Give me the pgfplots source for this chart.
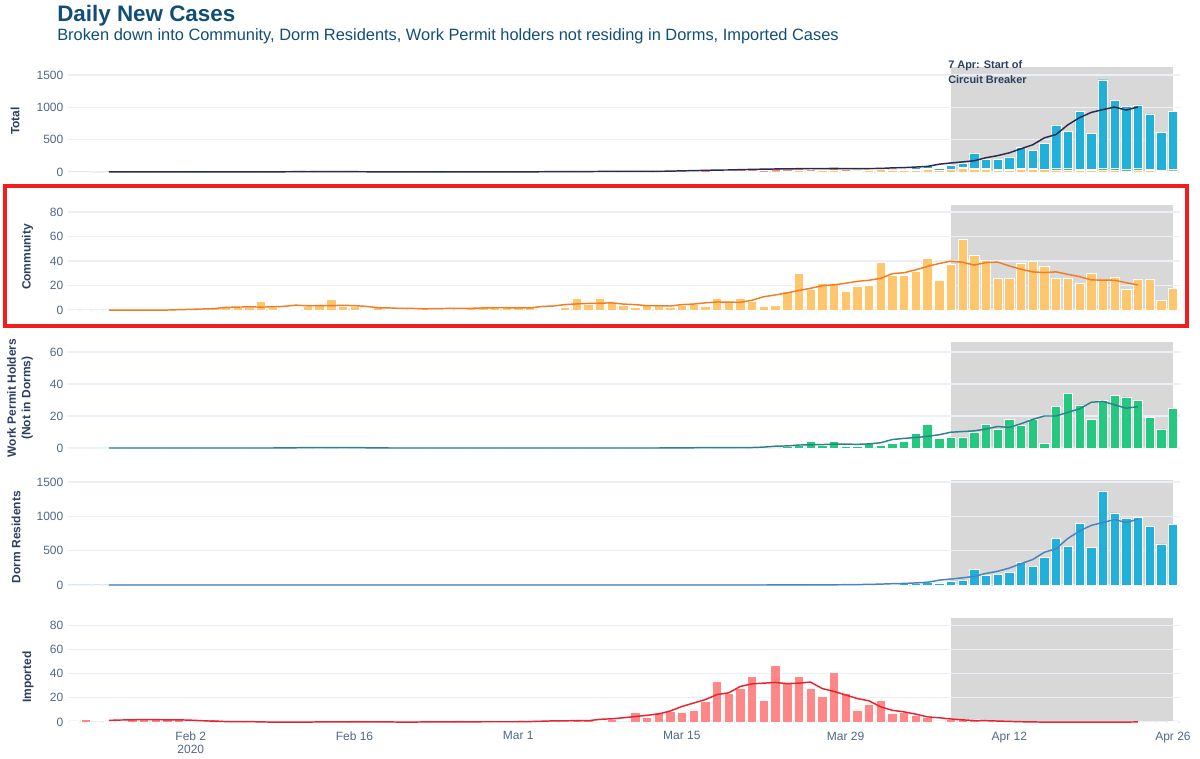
\documentclass[border=0pt]{standalone}
\usepackage{pgfplots}
\pgfplotsset{compat=1.18}
\usepackage{pgfplotstable}
\usepackage{fontspec}
\setmainfont{Liberation Sans}

\definecolor{titlec}{RGB}{16,78,118}
\definecolor{labc}{RGB}{42,63,95}
\definecolor{tickc}{RGB}{80,103,132}
\definecolor{gridc}{RGB}{235,240,248}
\definecolor{shade}{RGB}{216,216,216}
\definecolor{commbar}{RGB}{255,198,110}
\definecolor{commline}{RGB}{240,125,35}
\definecolor{impbar}{RGB}{255,135,135}
\definecolor{impline}{RGB}{232,35,45}
\definecolor{wpbar}{RGB}{36,200,126}
\definecolor{wpline}{RGB}{45,128,140}
\definecolor{dormbar}{RGB}{32,176,218}
\definecolor{dormline}{RGB}{72,130,192}
\definecolor{totline}{RGB}{40,42,78}
\definecolor{boxred}{RGB}{240,30,30}

% day 0 = 23 Jan 2020; C community, I imported, W work permit, D dorm
\pgfplotstableread{
d C I W D
0 0 1 0 0
1 0 2 0 0
2 0 0 0 0
3 0 1 0 0
4 0 1 0 0
5 0 2 0 0
6 0 3 0 0
7 0 3 0 0
8 0 3 0 0
9 0 2 0 0
10 0 0 0 0
11 0 0 0 0
12 2 2 0 0
13 2 1 0 0
14 2 0 0 0
15 2 0 0 0
16 7 0 0 0
17 2 0 0 0
18 1 0 0 0
19 1 0 0 0
20 3 0 0 0
21 5 0 1 0
22 9 0 0 0
23 3 0 1 0
24 3 1 0 0
25 1 0 0 0
26 3 0 0 0
27 1 0 0 0
28 1 0 0 0
29 1 0 0 0
30 2 0 0 0
31 0 0 0 0
32 1 0 0 0
33 1 1 0 0
34 2 0 0 0
35 2 0 0 0
36 2 0 0 0
37 2 0 0 0
38 2 1 0 0
39 2 0 0 0
40 1 1 0 0
41 1 0 0 0
42 2 1 0 0
43 10 2 0 0
44 5 2 0 0
45 10 1 0 0
46 6 2 0 0
47 4 0 0 0
48 2 8 0 0
49 4 4 0 0
50 3 8 0 0
51 2 9 0 0
52 4 8 0 0
53 5 10 0 0
54 3 17 1 0
55 10 34 0 0
56 7 24 0 0
57 10 28 1 0
58 7 38 0 0
59 3 18 0 0
60 4 47 0 0
61 15 32 1 0
62 30 38 2 1
63 17 28 4 1
64 22 21 2 2
65 21 41 4 2
66 15 24 1 1
67 19 10 1 4
68 20 15 3 8
69 39 18 2 14
70 28 7 3 10
71 28 8 4 24
72 32 6 9 28
73 42 4 15 45
74 24 1 6 30
75 37 2 7 60
76 58 2 7 75
77 45 2 10 230
78 41 1 15 140
79 26 1 12 152
80 26 0 18 188
81 38 0 14 334
82 40 0 18 276
83 36 0 3 407
84 26 0 26 676
85 26 0 34 563
86 22 0 27 893
87 30 0 18 548
88 24 0 30 1372
89 27 0 33 1051
90 17 0 32 967
91 25 0 30 982
92 25 0 19 853
93 8 0 12 598
94 18 1 25 888
}\daily

% 7-day centred averages, T = total
\pgfplotstableread{
d C I W D T
3 0 1.43 0 0 1.43
4 0 1.71 0 0 1.71
5 0 1.86 0 0 1.86
6 0 2.14 0 0 2.14
7 0 2.00 0 0 2.00
8 0 1.86 0 0 1.86
9 0.29 1.86 0 0 2.15
10 0.57 1.57 0 0 2.14
11 0.86 1.14 0 0 2.00
12 1.14 0.71 0 0 1.85
13 2.14 0.43 0 0 2.57
14 2.43 0.43 0 0 2.86
15 2.57 0.43 0 0 3.00
16 2.43 0.14 0 0 2.57
17 2.57 0 0 0 2.57
18 3.00 0 0.14 0 3.14
19 4.00 0 0.14 0 4.14
20 3.43 0 0.29 0 3.72
21 3.57 0.14 0.29 0 4.00
22 3.57 0.14 0.29 0 4.00
23 3.86 0.14 0.29 0 4.29
24 3.57 0.14 0.29 0 4.00
25 3.00 0.14 0.14 0 3.28
26 1.86 0.14 0.14 0 2.14
27 1.71 0.14 0 0 1.85
28 1.29 0 0 0 1.29
29 1.29 0 0 0 1.29
30 1.00 0.14 0 0 1.14
31 1.14 0.14 0 0 1.28
32 1.29 0.14 0 0 1.43
33 1.43 0.14 0 0 1.57
34 1.43 0.14 0 0 1.57
35 1.71 0.29 0 0 2.00
36 1.86 0.29 0 0 2.15
37 1.86 0.29 0 0 2.15
38 1.71 0.29 0 0 2.00
39 1.71 0.43 0 0 2.14
40 2.86 0.71 0 0 3.57
41 3.29 1.00 0 0 4.29
42 4.43 1.00 0 0 5.43
43 5.00 1.29 0 0 6.29
44 5.43 1.14 0 0 6.57
45 5.57 2.29 0 0 7.86
46 5.86 2.71 0 0 8.57
47 4.86 3.57 0 0 8.43
48 4.43 4.57 0 0 9.00
49 3.57 5.57 0 0 9.14
50 3.43 6.71 0 0 10.14
51 3.29 9.14 0.14 0 12.57
52 4.43 12.86 0.14 0 17.43
53 4.86 15.71 0.14 0 20.71
54 5.86 18.57 0.29 0 24.72
55 6.57 22.71 0.29 0 29.57
56 6.43 24.14 0.29 0 30.86
57 6.29 29.43 0.29 0 36.01
58 8.00 31.57 0.29 0 39.86
59 10.86 32.14 0.57 0.14 43.71
60 12.29 32.71 1.14 0.29 46.43
61 14.00 31.71 1.29 0.57 47.57
62 16.00 32.14 1.86 0.86 50.86
63 17.71 33.00 2.00 1.00 53.71
64 19.86 27.71 2.14 1.57 51.28
65 20.57 25.29 2.43 2.71 51.00
66 21.86 22.43 2.43 4.57 51.29
67 23.43 19.43 2.29 5.86 51.01
68 24.29 17.57 2.57 9.00 53.43
69 25.86 12.57 3.29 12.71 54.43
70 29.71 9.71 5.29 19.00 63.71
71 30.43 8.43 6.00 22.71 67.57
72 32.86 6.57 6.57 30.14 76.14
73 35.57 4.29 7.29 38.86 86.01
74 38.00 3.57 8.29 70.29 120.15
75 39.86 2.57 9.86 86.86 139.15
76 39.00 1.86 10.29 104.57 155.72
77 36.71 1.29 10.71 125.00 173.71
78 38.71 1.14 11.86 168.43 220.14
79 39.14 0.86 13.43 199.29 252.72
80 36.00 0.57 12.86 246.71 296.14
81 33.29 0.29 15.14 310.43 359.15
82 31.14 0.14 17.86 370.86 420.00
83 30.57 0 20.00 476.71 527.28
84 31.14 0 20.00 528.14 579.28
85 29.14 0 22.29 676.43 727.86
86 27.29 0 24.43 787.14 838.86
87 24.57 0 28.57 867.14 920.28
88 24.43 0 29.14 910.86 964.43
89 24.29 0 27.00 952.29 1003.58
90 22.29 0 24.86 910.14 957.29
91 20.57 0.14 25.86 958.71 1005.28
}\ma

\pgfplotsset{
  panel/.style={
    scale only axis, width=834pt, anchor=south west,
    xmin=-0.5, xmax=94.6,
    axis line style={draw=none},
    major tick length=0pt,
    ymajorgrids, grid style={color=gridc, line width=0.9pt},
    xtick=\empty,
    tick label style={font=\fontsize{9}{10}\selectfont, color=tickc},
    /pgf/number format/assume math mode=true,
    /pgf/number format/1000 sep={},
  },
  bars/.style={ybar, bar width=0.8, bar shift=0pt, draw=white, line width=0.4pt, fill=#1},
  avg/.style={color=#1, line width=1.1pt, mark=none},
  cb/.style={draw=none, fill=shade},
}

\tikzset{ylab/.style={rotate=90, font=\bfseries\fontsize{9}{11}\selectfont, color=labc, align=center}}

\begin{document}
\begin{tikzpicture}
\useasboundingbox (0,0) rectangle (900pt,568.5pt);

\node[anchor=west, inner sep=0pt, color=titlec, font=\bfseries\fontsize{16.8}{18}\selectfont] at (42.75pt,557pt) {Daily New Cases};
\node[anchor=west, inner sep=0pt, color=titlec, font=\fontsize{12.3}{14}\selectfont] at (42.75pt,541.5pt) {Broken down into Community, Dorm Residents, Work Permit holders not residing in Dorms, Imported Cases};

% Total: shading, then grid with stacked bars, then the average
\begin{axis}[panel, at={(51pt,435.15pt)}, height=83.2pt, ymin=-90, ymax=1625, hide axis]
\addplot[cb] coordinates {(75,0) (94,0) (94,1625) (75,1625)};
\end{axis}
\begin{axis}[panel, at={(51pt,435.15pt)}, height=83.2pt, ymin=-90, ymax=1625,
  ytick={0,500,1000,1500}, ybar stacked, bar width=0.8]
\addplot[fill=commbar, draw=white, line width=0.3pt] table[x=d,y=C]{\daily};
\addplot[fill=impbar, draw=white, line width=0.3pt] table[x=d,y=I]{\daily};
\addplot[fill=wpbar, draw=white, line width=0.3pt] table[x=d,y=W]{\daily};
\addplot[fill=dormbar, draw=white, line width=0.3pt] table[x=d,y=D]{\daily};
\end{axis}
\begin{axis}[panel, at={(51pt,435.15pt)}, height=83.2pt, ymin=-90, ymax=1625, hide axis]
\addplot[avg=totline] table[x=d,y=T]{\ma};
\end{axis}
\node[anchor=north west, align=left, color=labc, font=\bfseries\fontsize{8.2}{11.25}\selectfont, inner sep=0pt] at (711pt,523pt) {7 Apr: Start of\\Circuit Breaker};

% Community
\begin{axis}[panel, at={(51pt,332.3pt)}, height=82.7pt, ymin=-4, ymax=86, hide axis]
\addplot[cb] coordinates {(75,0) (94,0) (94,86) (75,86)};
\end{axis}
\begin{axis}[panel, at={(51pt,332.3pt)}, height=82.7pt, ymin=-4, ymax=86,
  ytick={0,20,40,60,80}]
\addplot[bars=commbar] table[x=d,y=C]{\daily};
\addplot[avg=commline] table[x=d,y=C]{\ma};
\end{axis}

% Work permit holders
\begin{axis}[panel, at={(51pt,228.9pt)}, height=82.8pt, ymin=-3, ymax=66, hide axis]
\addplot[cb] coordinates {(75,0) (94,0) (94,66) (75,66)};
\end{axis}
\begin{axis}[panel, at={(51pt,228.9pt)}, height=82.8pt, ymin=-3, ymax=66,
  ytick={0,20,40,60}]
\addplot[bars=wpbar] table[x=d,y=W]{\daily};
\addplot[avg=wpline] table[x=d,y=W]{\ma};
\end{axis}

% Dorm residents
\begin{axis}[panel, at={(51pt,126.15pt)}, height=82.65pt, ymin=-70, ymax=1535, hide axis]
\addplot[cb] coordinates {(75,0) (94,0) (94,1535) (75,1535)};
\end{axis}
\begin{axis}[panel, at={(51pt,126.15pt)}, height=82.65pt, ymin=-70, ymax=1535,
  ytick={0,500,1000,1500}]
\addplot[bars=dormbar] table[x=d,y=D]{\daily};
\addplot[avg=dormline] table[x=d,y=D]{\ma};
\end{axis}

% Imported
\begin{axis}[panel, at={(51pt,23.3pt)}, height=81.8pt, ymin=-4, ymax=86, hide axis]
\addplot[cb] coordinates {(75,0) (94,0) (94,86) (75,86)};
\end{axis}
\begin{axis}[panel, at={(51pt,23.3pt)}, height=81.8pt, ymin=-4, ymax=86,
  ytick={0,20,40,60,80},
  xtick={10,24,38,52,66,80,94},
  xticklabels={Feb 2\\2020, Feb 16, Mar 1, Mar 15, Mar 29, Apr 12, Apr 26},
  xticklabel style={align=center}]
\addplot[bars=impbar] table[x=d,y=I]{\daily};
\addplot[avg=impline] table[x=d,y=I]{\ma};
\end{axis}

\node[ylab] at (11.25pt,477.75pt) {Total};
\node[ylab] at (20.6pt,375.75pt) {Community};
\node[ylab] at (15pt,270pt) {Work Permit Holders\\(Not in Dorms)};
\node[ylab] at (12pt,165.75pt) {Dorm Residents};
\node[ylab] at (21pt,60.75pt) {Imported};

\draw[boxred, line width=2.5pt] (3.75pt,324pt) rectangle (890.25pt,429pt);
\end{tikzpicture}
\end{document}
